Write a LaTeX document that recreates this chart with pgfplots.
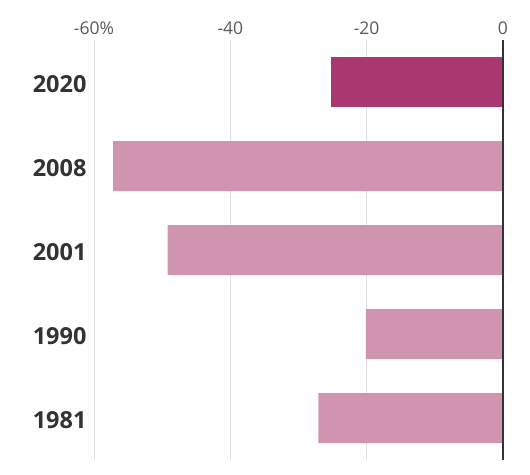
\documentclass[border=0pt]{standalone}
\usepackage{pgfplots}
\pgfplotsset{compat=1.18}
\usepackage{fontspec}
\setmainfont{Open Sans}
\definecolor{hl}{HTML}{A8386F}
\definecolor{barc}{HTML}{D094B0}
\begin{document}
\begin{tikzpicture}[x=1pt,y=1pt]
\useasboundingbox (0,0) rectangle (530,474);
\begin{axis}[at={(94pt,14pt)}, anchor=south west, scale only axis,
  width=409pt, height=420pt, xmin=-60, xmax=0, ymin=-0.5, ymax=4.5,
  y dir=reverse, axis line style={draw=none}, major tick length=0pt,
  xticklabel pos=upper, xtick={-60,-40,-20,0}, xticklabels={-60\%,-40,-20,0},
  ytick={0,1,2,3,4}, yticklabels={2020,2008,2001,1990,1981},
  xmajorgrids, grid style={black!12, line width=0.8pt},
  xticklabel style={font=\fontsize{17.5}{17.5}\selectfont, text=black!65, yshift=2pt},
  yticklabel style={font=\fontsize{23.5}{23.5}\selectfont\bfseries, text=black!80, xshift=-4pt, yshift=-2pt},
  clip=false]
\addplot[xbar, bar width=50pt, bar shift=0pt, fill=hl, draw=none] coordinates {(-25.2,0)};
\addplot[xbar, bar width=50pt, bar shift=0pt, fill=barc, draw=none] coordinates {(-57.2,1) (-49.2,2) (-20.1,3) (-27.1,4)};
\draw[black!80, line width=1.2pt] (axis cs:0,-0.5) -- (axis cs:0,4.5);
\end{axis}
\end{tikzpicture}
\end{document}
